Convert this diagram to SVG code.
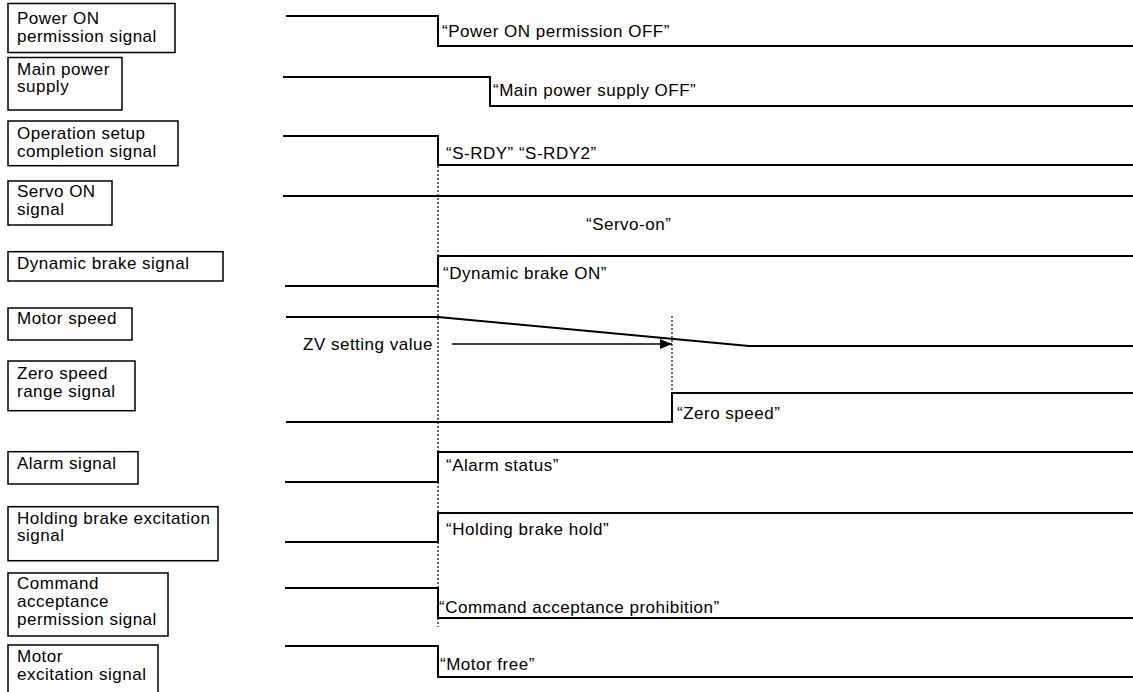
<svg xmlns="http://www.w3.org/2000/svg" width="1133" height="692" viewBox="0 0 1133 692">
<style>
text{font-family:"Liberation Sans",Arial,sans-serif;font-size:17px;letter-spacing:0.5px;fill:#000}
.box{fill:#fff;stroke:#000;stroke-width:1.5}
.wave{fill:none;stroke:#000;stroke-width:2;stroke-linejoin:miter}
.dot{fill:none;stroke:#000;stroke-width:1.2;stroke-dasharray:2 2}
</style>
<defs>
<marker id="arr" viewBox="0 0 12 10" refX="12" refY="5" markerWidth="12" markerHeight="10" markerUnits="userSpaceOnUse" orient="auto">
<path d="M0,0 L12,5 L0,10 Z" fill="#000"/>
</marker>
</defs>
<rect width="1133" height="692" fill="#fff"/>

<g id="power-on-permission">
<rect class="box" x="8" y="3.5" width="167" height="49"/>
<text x="17" y="24">Power ON</text>
<text x="17" y="42">permission signal</text>
<polyline class="wave" points="286,16 438,16 438,46 1133,46"/>
<text x="442" y="37">“Power ON permission OFF”</text>
</g>

<g id="main-power-supply">
<rect class="box" x="8" y="57.5" width="114" height="52.5"/>
<text x="17" y="75">Main power</text>
<text x="17" y="92">supply</text>
<polyline class="wave" points="283,77 490,77 490,106 1133,106"/>
<text x="493" y="96">“Main power supply OFF”</text>
</g>

<g id="operation-setup">
<rect class="box" x="8" y="121" width="170" height="44.7"/>
<text x="17" y="139">Operation setup</text>
<text x="17" y="157">completion signal</text>
<polyline class="wave" points="283,136 438,136 438,165 1133,165"/>
<text x="446" y="159">“S-RDY” “S-RDY2”</text>
</g>

<g id="servo-on">
<rect class="box" x="8" y="181" width="104" height="44"/>
<text x="17" y="197">Servo ON</text>
<text x="17" y="215">signal</text>
<polyline class="wave" points="283,196 1133,196"/>
<text x="586" y="230">“Servo-on”</text>
</g>

<g id="dynamic-brake">
<rect class="box" x="8" y="251.7" width="215" height="29.3"/>
<text x="17" y="269">Dynamic brake signal</text>
<polyline class="wave" points="285,286 438,286 438,256 1133,256"/>
<text x="443" y="279">“Dynamic brake ON”</text>
</g>

<g id="motor-speed">
<rect class="box" x="8" y="308" width="124" height="32"/>
<text x="17" y="324">Motor speed</text>
<polyline class="wave" points="286,317 438,317 749,346 1133,346"/>
<text x="303" y="350">ZV setting value</text>
</g>

<g id="zero-speed">
<rect class="box" x="8" y="361" width="127" height="49.7"/>
<text x="17" y="379">Zero speed</text>
<text x="17" y="397">range signal</text>
<polyline class="wave" points="286,422 672,422 672,393 1133,393"/>
<text x="677" y="419">“Zero speed”</text>
</g>

<g id="alarm">
<rect class="box" x="8" y="451.7" width="130" height="32.3"/>
<text x="17" y="469">Alarm signal</text>
<polyline class="wave" points="285,482 438,482 438,452 1133,452"/>
<text x="446" y="471">“Alarm status”</text>
</g>

<g id="holding-brake">
<rect class="box" x="8" y="506.7" width="210" height="54"/>
<text x="17" y="524">Holding brake excitation</text>
<text x="17" y="541">signal</text>
<polyline class="wave" points="285,542 438,542 438,513 1133,513"/>
<text x="446" y="535">“Holding brake hold”</text>
</g>

<g id="command-acceptance">
<rect class="box" x="8" y="573" width="160" height="63"/>
<text x="17" y="589">Command</text>
<text x="17" y="607">acceptance</text>
<text x="17" y="625">permission signal</text>
<polyline class="wave" points="285,588 438,588 438,618 1133,618"/>
<text x="439" y="613">“Command acceptance prohibition”</text>
</g>

<g id="motor-excitation">
<rect class="box" x="8" y="645" width="150" height="60"/>
<text x="17" y="662">Motor</text>
<text x="17" y="680">excitation signal</text>
<polyline class="wave" points="285,646 438,646 438,677 1133,677"/>
<text x="440" y="670">“Motor free”</text>
</g>

<g id="connectors">
<line class="dot" x1="438" y1="166" x2="438" y2="627"/>
<line class="dot" x1="672" y1="316" x2="672" y2="422"/>
<line x1="452" y1="344" x2="672" y2="344" stroke="#000" stroke-width="1.6" marker-end="url(#arr)"/>
</g>
</svg>
